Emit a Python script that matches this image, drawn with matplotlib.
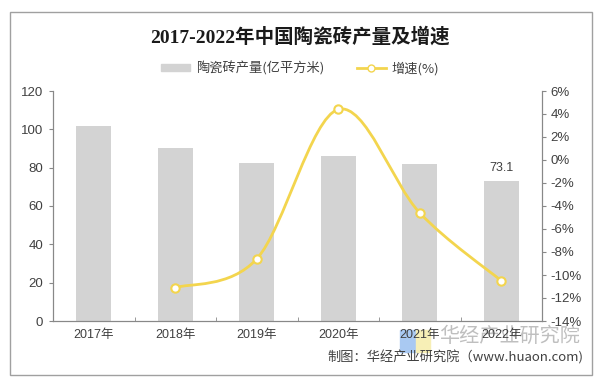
#! /usr/bin/env python3
import matplotlib
matplotlib.use("Agg")
import matplotlib.pyplot as plt
import numpy as np
from matplotlib.path import Path
from matplotlib.patches import PathPatch, Rectangle
from matplotlib.lines import Line2D

SANS = ["Liberation Sans", "Noto Sans CJK SC"]
CJK = ["Noto Sans CJK SC", "DejaVu Sans"]
plt.rcParams["font.family"] = SANS

years = ["2017年", "2018年", "2019年", "2020年", "2021年", "2022年"]
output = [101.5, 90.1, 82.3, 85.9, 81.7, 73.1]   # 亿平方米
growth_years = [1, 2, 3, 4, 5]                   # index of 2018..2022
growth = [-11.1, -8.6, 4.4, -4.6, -10.5]          # %

BAR = "#d3d3d3"
LINE = "#f3d54e"
TXT = "#404040"

fig = plt.figure(figsize=(6, 3.84), dpi=100)
ax = fig.add_axes([53 / 600, 1 - 321 / 384, 489 / 600, 230 / 384])
ax2 = ax.twinx()

x = np.arange(len(years))
ax.bar(x, output, width=0.43, color=BAR, zorder=2)
ax.annotate(f"{output[-1]:.1f}", (x[-1], output[-1]), xytext=(0, 5),
            textcoords="offset points", ha="center", va="bottom",
            fontsize=9, color=TXT)

# smoothed line like Excel's "smooth line" (cubic Bezier through the points)
gx = np.array(growth_years, dtype=float)
gy = np.array(growth, dtype=float)
pts = np.column_stack([gx, gy])
ext = np.vstack([pts[0], pts, pts[-1]])
verts = [tuple(pts[0])]
codes = [Path.MOVETO]
for i in range(len(pts) - 1):
    p0, p1, p2, p3 = ext[i], ext[i + 1], ext[i + 2], ext[i + 3]
    c1 = p1 + (p2 - p0) / 6
    c2 = p2 - (p3 - p1) / 6
    verts += [tuple(c1), tuple(c2), tuple(p2)]
    codes += [Path.CURVE4] * 3
ax2.add_patch(PathPatch(Path(verts, codes), fill=False, edgecolor=LINE,
                        lw=2, zorder=3))
ax2.plot(gx, gy, ls="none", marker="o", ms=6, mfc="white", mec=LINE,
         mew=1.5, zorder=4)

ax.set_xlim(-0.5, len(years) - 0.5)
ax.set_ylim(0, 120)
ax.set_yticks(range(0, 121, 20))
ax2.set_ylim(-14, 6)
ax2.set_yticks(range(-14, 7, 2))
ax2.set_yticklabels([f"{v}%" for v in range(-14, 7, 2)])

ax.set_xticks(x)
ax.set_xticklabels(years)
ax.set_xticks(np.arange(-0.5, len(years)), minor=True)
ax.tick_params(axis="x", which="major", length=0, pad=6, labelsize=9,
               labelcolor=TXT)
ax.tick_params(axis="x", which="minor", length=3, direction="in",
               color="#888888")
ax.tick_params(axis="y", length=3, color="#888888", labelsize=9.5,
               labelcolor=TXT, pad=4)
ax2.tick_params(axis="y", length=3, color="#888888", labelsize=9.5,
                labelcolor=TXT, pad=3)
for a in (ax, ax2):
    a.spines["top"].set_visible(False)
    for s in ("left", "right", "bottom"):
        a.spines[s].set_color("#888888")
        a.spines[s].set_linewidth(0.8)

fig.text(0.5, 1 - 37 / 384, "2017-2022年中国陶瓷砖产量及增速", ha="center",
         va="center", fontsize=14, fontweight="bold", color="#1a1a1a",
         family=["Liberation Serif", "Noto Sans CJK SC"])

handles = [Rectangle((0, 0), 1, 1, color=BAR),
           Line2D([], [], color=LINE, lw=2, marker="o", ms=5, mfc="white",
                  mec=LINE)]
fig.legend(handles, ["陶瓷砖产量(亿平方米)", "增速(%)"], loc="center",
           bbox_to_anchor=(0.5, 1 - 68 / 384), ncol=2, frameon=False,
           prop={"family": CJK, "size": 9.5}, handlelength=2.2,
           handleheight=0.5, columnspacing=2.5, handletextpad=0.4,
           labelcolor=TXT)

# logo blocks and watermark sit behind the axis labels
fig.patches.append(Rectangle((400 / 600, 1 - 352 / 384), 16 / 600, 22 / 384,
                             transform=fig.transFigure, color="#a9c9f2",
                             zorder=-2))
fig.patches.append(Rectangle((416 / 600, 1 - 352 / 384), 14 / 600, 22 / 384,
                             transform=fig.transFigure, color="#f7efb6",
                             zorder=-2))
fig.text(580 / 600, 1 - 336 / 384, "华经产业研究院", ha="right", va="center",
         fontsize=14.5, color="#bfbfbf", family=CJK, zorder=-1)
fig.text(583 / 600, 1 - 357 / 384, "制图：华经产业研究院（www.huaon.com)",
         ha="right", va="center", fontsize=9.5, color=TXT, family=CJK)

fig.patches.append(Rectangle((10 / 600, 1 - 375 / 384), 582 / 600, 363 / 384,
                             transform=fig.transFigure, fill=False,
                             edgecolor="#a0a0a0", lw=1))

fig.savefig("out.png", dpi=100)
